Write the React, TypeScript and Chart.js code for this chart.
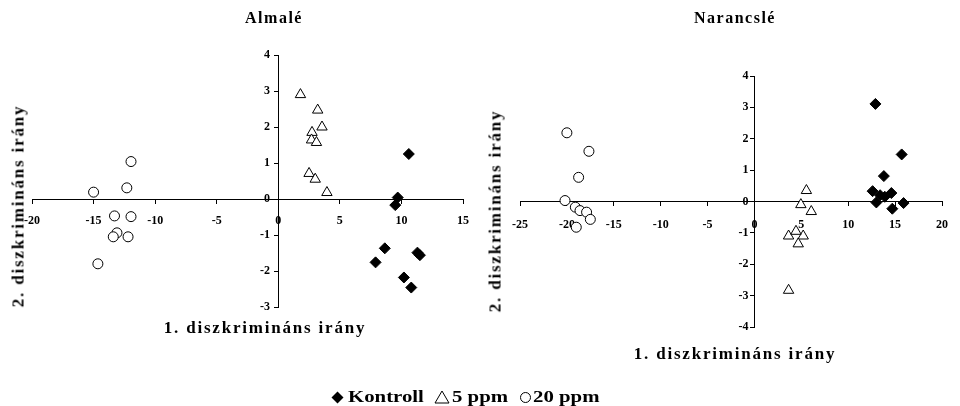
import React, { useEffect, useRef } from "react";
import { Chart, registerables } from "chart.js";

Chart.register(...registerables);

// ---------- Data ----------
const seriesNames = ["Kontroll", "5 ppm", "20 ppm"];

// Almalé
const almaKontrollX = [10.6, 9.7, 9.5, 8.65, 7.9, 10.2, 10.8, 11.3, 11.5];
const almaKontrollY = [1.25, 0.04, -0.17, -1.37, -1.76, -2.18, -2.46, -1.49, -1.56];
const alma5X = [1.8, 3.2, 3.55, 2.74, 2.7, 3.1, 2.5, 3.0, 3.95];
const alma5Y = [2.9, 2.47, 2.0, 1.85, 1.64, 1.57, 0.71, 0.55, 0.18];
const alma20X = [-11.96, -12.3, -15.0, -13.3, -11.96, -13.1, -13.4, -12.2, -14.65];
const alma20Y = [1.04, 0.31, 0.19, -0.47, -0.49, -0.94, -1.05, -1.05, -1.8];

// Narancslé
const narKontrollX = [12.9, 15.7, 13.8, 12.6, 13.4, 14.6, 13.0, 14.7, 15.9, 13.9];
const narKontrollY = [3.11, 1.5, 0.81, 0.33, 0.2, 0.27, -0.03, -0.23, -0.05, 0.15];
const nar5X = [5.54, 4.95, 6.06, 3.64, 5.2, 4.67, 4.43, 3.64];
const nar5Y = [0.35, -0.1, -0.32, -1.1, -1.1, -1.35, -0.95, -2.83];
const nar20X = [-20.0, -17.65, -18.75, -20.2, -19.1, -18.6, -17.9, -17.5, -19.0];
const nar20Y = [2.19, 1.6, 0.77, 0.03, -0.18, -0.29, -0.34, -0.57, -0.82];

// Axis ranges / ticks
const almaXRange = [-20, 15];
const almaYRange = [-3, 4];
const narXRange = [-25, 20];
const narYRange = [-4, 4];
const xStep = 5;
const yStep = 1;

const titleAlma = "Almalé";
const titleNar = "Narancslé";
const xTitle = "1. diszkrimináns irány";
const yTitle = "2. diszkrimináns irány";

const SERIF = '"Liberation Serif", "Times New Roman", "DejaVu Serif", serif';

function toPoints(xs: number[], ys: number[]) {
  return xs.map((x, i) => ({ x, y: ys[i] }));
}

function makeConfig(
  k: [number[], number[]],
  f: [number[], number[]],
  t: [number[], number[]],
  xr: number[],
  yr: number[],
  padding: any,
  xPad: number,
  ySuffix: string
): any {
  const tickFont = { family: SERIF, size: 12, weight: "bold" as const };
  return {
    type: "scatter",
    data: {
      datasets: [
        {
          label: seriesNames[0],
          data: toPoints(k[0], k[1]),
          pointStyle: "rectRot",
          pointRadius: 5.5,
          backgroundColor: "#000",
          borderColor: "#000",
          borderWidth: 1,
        },
        {
          label: seriesNames[1],
          data: toPoints(f[0], f[1]),
          pointStyle: "triangle",
          pointRadius: 6,
          backgroundColor: "#fff",
          borderColor: "#000",
          borderWidth: 1,
        },
        {
          label: seriesNames[2],
          data: toPoints(t[0], t[1]),
          pointStyle: "circle",
          pointRadius: 5,
          backgroundColor: "#fff",
          borderColor: "#000",
          borderWidth: 1,
        },
      ],
    },
    options: {
      animation: false,
      responsive: false,
      maintainAspectRatio: false,
      layout: { padding },
      plugins: { legend: { display: false }, tooltip: { enabled: false }, title: { display: false } },
      scales: {
        x: {
          type: "linear",
          min: xr[0],
          max: xr[1],
          position: { y: 0 },
          ticks: { stepSize: xStep, font: tickFont, color: "#000", padding: xPad, maxRotation: 0, autoSkip: false },
          grid: { drawOnChartArea: false, drawTicks: true, tickLength: 4, color: "#000" },
          border: { color: "#000", width: 1 },
        },
        y: {
          type: "linear",
          min: yr[0],
          max: yr[1],
          position: { x: 0 },
          ticks: {
            stepSize: yStep,
            font: tickFont,
            color: "#000",
            autoSkip: false,
            callback: (v: number) => `${v}${ySuffix}`,
          },
          grid: { drawOnChartArea: false, drawTicks: true, tickLength: 4, color: "#000" },
          border: { color: "#000", width: 1 },
        },
      },
    },
  };
}

function ChartCanvas({ config, left, width }: { config: any; left: number; width: number }) {
  const ref = useRef<HTMLCanvasElement | null>(null);
  useEffect(() => {
    if (!ref.current) return;
    const chart = new Chart(ref.current, config);
    return () => chart.destroy();
  }, []);
  return (
    <canvas
      ref={ref}
      width={width}
      height={406}
      style={{ position: "absolute", left, top: 0, width, height: 406 }}
    />
  );
}

function Label({ text, cx, cy, size, rotate, spacing }: { text: string; cx: number; cy: number; size: number; rotate?: boolean; spacing?: number }) {
  return (
    <div
      style={{
        position: "absolute",
        left: cx,
        top: cy,
        transform: `translate(-50%, -50%)${rotate ? " rotate(-90deg)" : ""}`,
        whiteSpace: "nowrap",
        fontFamily: SERIF,
        fontWeight: "bold",
        fontSize: size,
        letterSpacing: spacing ?? 0,
        lineHeight: 1,
        color: "#000",
      }}
    >
      {text}
    </div>
  );
}

function LegendText({ text, left }: { text: string; left: number }) {
  return (
    <div
      style={{
        position: "absolute",
        left,
        top: 397,
        transform: "translateY(-50%) scaleX(1.3)",
        transformOrigin: "0 50%",
        whiteSpace: "nowrap",
        fontFamily: SERIF,
        fontWeight: "bold",
        fontSize: 16,
        lineHeight: 1,
        color: "#000",
      }}
    >
      {text}
    </div>
  );
}

export default function App() {
  const almaConfig = makeConfig(
    [almaKontrollX, almaKontrollY],
    [alma5X, alma5Y],
    [alma20X, alma20Y],
    almaXRange,
    almaYRange,
    { left: 32, right: 15, top: 55, bottom: 99 },
    11,
    "\u2002\u2009"
  );
  const narConfig = makeConfig(
    [narKontrollX, narKontrollY],
    [nar5X, nar5Y],
    [nar20X, nar20Y],
    narXRange,
    narYRange,
    { left: 40, right: 8, top: 76, bottom: 79 },
    12,
    "\u2002"
  );
  return (
    <div style={{ position: "absolute", left: 0, top: 0, width: 960, height: 406, background: "#fff", overflow: "hidden" }}>
      <ChartCanvas config={almaConfig} left={0} width={480} />
      <ChartCanvas config={narConfig} left={480} width={480} />
      <Label text={titleAlma} cx={274} cy={18} size={16} spacing={1.5} />
      <Label text={titleNar} cx={735} cy={18} size={16} spacing={1.5} />
      <Label text={yTitle} cx={18} cy={206} size={17} rotate spacing={1.8} />
      <Label text={yTitle} cx={495} cy={211} size={17} rotate spacing={1.8} />
      <Label text={xTitle} cx={265} cy={327} size={17} spacing={1.8} />
      <Label text={xTitle} cx={735} cy={353} size={17} spacing={1.8} />
      <svg style={{ position: "absolute", left: 331, top: 391 }} width={13} height={13}>
        <polygon points="6.5,0.5 12.5,6.5 6.5,12.5 0.5,6.5" fill="#000" />
      </svg>
      <LegendText text={seriesNames[0]} left={348} />
      <svg style={{ position: "absolute", left: 434, top: 390 }} width={16} height={14}>
        <polygon points="8,1 15,13 1,13" fill="none" stroke="#000" strokeWidth={1} />
      </svg>
      <LegendText text={seriesNames[1]} left={452} />
      <svg style={{ position: "absolute", left: 519, top: 391 }} width={13} height={13}>
        <circle cx={6.5} cy={6.5} r={5} fill="none" stroke="#000" strokeWidth={1} />
      </svg>
      <LegendText text={seriesNames[2]} left={533} />
    </div>
  );
}
